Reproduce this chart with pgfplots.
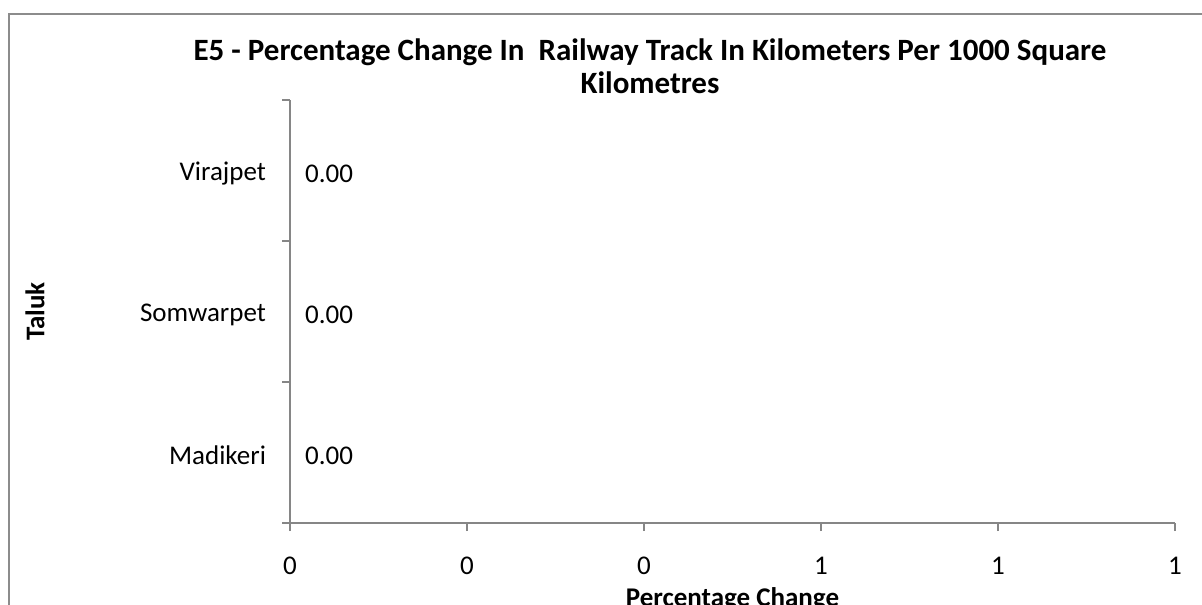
\documentclass[border=0pt]{standalone}
\usepackage{pgfplots}
\pgfplotsset{compat=1.18}
\usepackage{fontspec}
\setmainfont{Carlito}
\definecolor{axgray}{HTML}{868686}
\definecolor{bordergray}{HTML}{8C8C8C}
\begin{document}
\begin{tikzpicture}[x=0.5pt,y=-0.5pt]
\path[use as bounding box] (0,0) rectangle (1202,604);
\draw[bordergray,line width=1pt] (9,700) -- (9,14) -- (1300,14);
\node[font=\fontsize{15.5}{16.5}\selectfont\bfseries,align=center] at (650,66) {E5 - Percentage Change In\ \ Railway Track In Kilometers Per 1000 Square\\Kilometres};
\begin{axis}[
  at={(290pt*0.5,-523pt*0.5)}, anchor=south west,
  scale only axis, width=442.5pt, height=211.5pt,
  xbar, bar width=20pt,
  xmin=0, xmax=1, ymin=-0.5, ymax=2.5,
  axis lines*=left,
  axis line style={axgray,line width=0.6pt},
  xtick={0,0.2,0.4,0.6,0.8,1},
  xticklabels={0,0,0,1,1,1},
  ytick={0,1,2},
  yticklabels={Madikeri,Somwarpet,Virajpet},
  minor ytick={-0.5,0.5,1.5,2.5},
  major y tick style={draw=none},
  minor y tick style={axgray,line width=0.6pt},
  x tick style={axgray,line width=0.6pt},
  tick align=outside,
  major tick length=4pt, minor tick length=4pt,
  xticklabel style={font=\fontsize{13.5}{16}\selectfont, yshift=-9.5pt},
  yticklabel style={font=\fontsize{13.5}{16}\selectfont, xshift=-4.5pt, yshift=-1.5pt},
  xlabel={\bfseries Percentage Change},
  every axis x label/.style={at={(axis description cs:0.5,0)}, anchor=center, yshift=-38pt, font=\fontsize{13.5}{16}\selectfont},
  ylabel={\bfseries Taluk},
  every axis y label/.style={at={(axis description cs:0,0.5)}, xshift=-127.5pt, rotate=90, anchor=center, font=\fontsize{13.5}{16}\selectfont},
  nodes near coords,
  nodes near coords style={font=\fontsize{13.5}{16}\selectfont, anchor=west, xshift=4pt, yshift=-1.5pt, /pgf/number format/.cd, fixed, fixed zerofill, precision=2, assume math mode=true},
  clip=false,
]
\addplot[draw=none, fill=none] coordinates {(0,0) (0,1) (0,2)};
\end{axis}
\end{tikzpicture}
\end{document}
